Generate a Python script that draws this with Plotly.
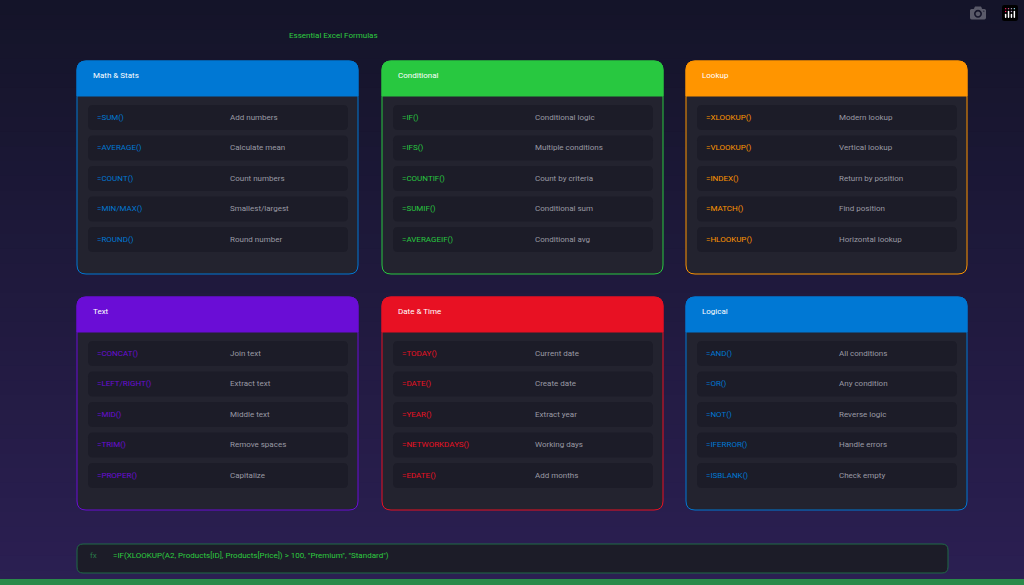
import plotly.graph_objects as go

title = "Essential Excel Formulas"
categories = ["Math & Stats", "Conditional", "Lookup", "Text", "Date & Time", "Logical"]
colors = ["#0078d4", "#28c840", "#ff9500", "#6a0dd6", "#e81123", "#0078d4"]
formulas = [
    ["=SUM()", "=AVERAGE()", "=COUNT()", "=MIN/MAX()", "=ROUND()"],
    ["=IF()", "=IFS()", "=COUNTIF()", "=SUMIF()", "=AVERAGEIF()"],
    ["=XLOOKUP()", "=VLOOKUP()", "=INDEX()", "=MATCH()", "=HLOOKUP()"],
    ["=CONCAT()", "=LEFT/RIGHT()", "=MID()", "=TRIM()", "=PROPER()"],
    ["=TODAY()", "=DATE()", "=YEAR()", "=NETWORKDAYS()", "=EDATE()"],
    ["=AND()", "=OR()", "=NOT()", "=IFERROR()", "=ISBLANK()"],
]
descriptions = [
    ["Add numbers", "Calculate mean", "Count numbers", "Smallest/largest", "Round number"],
    ["Conditional logic", "Multiple conditions", "Count by criteria", "Conditional sum", "Conditional avg"],
    ["Modern lookup", "Vertical lookup", "Return by position", "Find position", "Horizontal lookup"],
    ["Join text", "Extract text", "Middle text", "Remove spaces", "Capitalize"],
    ["Current date", "Create date", "Extract year", "Working days", "Add months"],
    ["All conditions", "Any condition", "Reverse logic", "Handle errors", "Check empty"],
]
example_formula = '=IF(XLOOKUP(A2, Products[ID], Products[Price]) > 100, "Premium", "Standard")'

W, H = 1024, 585
FONT = "Roboto"

def rr(x0, y0, x1, y1, r, top=True, bottom=True):
    rt = r if top else 0
    rb = r if bottom else 0
    return (f"M{x0+rt},{y0} L{x1-rt},{y0} Q{x1},{y0} {x1},{y0+rt} "
            f"L{x1},{y1-rb} Q{x1},{y1} {x1-rb},{y1} L{x0+rb},{y1} Q{x0},{y1} {x0},{y1-rb} "
            f"L{x0},{y0+rt} Q{x0},{y0} {x0+rt},{y0} Z")

def mix(c1, c2, t):
    a = [int(c1[i:i+2], 16) for i in (1, 3, 5)]
    b = [int(c2[i:i+2], 16) for i in (1, 3, 5)]
    return "#" + "".join(f"{round(a[k]+(b[k]-a[k])*t):02x}" for k in range(3))

shapes, ann = [], []
n = 40
for i in range(n):
    shapes.append(dict(type="rect", x0=0, x1=W, y0=H*i/n, y1=H*(i+1)/n+1, line_width=0,
                       fillcolor=mix("#141429", "#2b1f52", i/(n-1)), layer="below"))
shapes.append(dict(type="rect", x0=0, x1=W, y0=579, y1=H, line_width=0, fillcolor="#2a8a4a"))

ann.append(dict(x=333, y=35, text=title, showarrow=False, font=dict(family=FONT, size=8, color="#2ecc40")))

cols_x = [77, 382, 686]
rows_y = [61, 297]
cw, ch, hh = 281, 213, 35
for k, cat in enumerate(categories):
    x0 = cols_x[k % 3]; y0 = rows_y[k // 3]; c = colors[k]
    shapes.append(dict(type="path", path=rr(x0, y0, x0+cw, y0+ch, 9), fillcolor="#23232f",
                       line=dict(color=c, width=1)))
    shapes.append(dict(type="path", path=rr(x0, y0, x0+cw, y0+hh, 9, bottom=False), fillcolor=c,
                       line=dict(color=c, width=1)))
    ann.append(dict(x=x0+14, y=y0+14, text=cat, xanchor="left", showarrow=False,
                    font=dict(family=FONT, size=8, color="#ffffff")))
    for j, (f, d) in enumerate(zip(formulas[k], descriptions[k])):
        cy = y0 + 56 + j*30.5
        shapes.append(dict(type="path", path=rr(x0+11, cy-12, x0+271, cy+13, 5),
                           fillcolor="#1c1c28", line_width=0))
        ann.append(dict(x=x0+18, y=cy, text=f, xanchor="left", showarrow=False,
                        font=dict(family=FONT, size=8, color=c)))
        ann.append(dict(x=x0+151, y=cy, text=d, xanchor="left", showarrow=False,
                        font=dict(family=FONT, size=8, color="#9a9aa4")))

shapes.append(dict(type="path", path=rr(77, 544, 948, 573, 6), fillcolor="#1c1c28",
                   line=dict(color="#1f6b47", width=1)))
ann.append(dict(x=88, y=555, text="fx", xanchor="left", showarrow=False,
                font=dict(family=FONT, size=8, color="#2a7a4a")))
ann.append(dict(x=111, y=555, text=example_formula, xanchor="left", showarrow=False,
                font=dict(family=FONT, size=8, color="#2ecc40")))

fig = go.Figure()
fig.update_layout(width=W, height=H, margin=dict(l=0, r=0, t=0, b=0),
                  paper_bgcolor="#141429", plot_bgcolor="#141429",
                  xaxis=dict(range=[0, W], visible=False, fixedrange=True),
                  yaxis=dict(range=[H, 0], visible=False, fixedrange=True),
                  shapes=shapes, annotations=ann, showlegend=False)
fig.write_html("out.html", post_script="document.body.style.margin='0';document.body.style.background='#141429';")
